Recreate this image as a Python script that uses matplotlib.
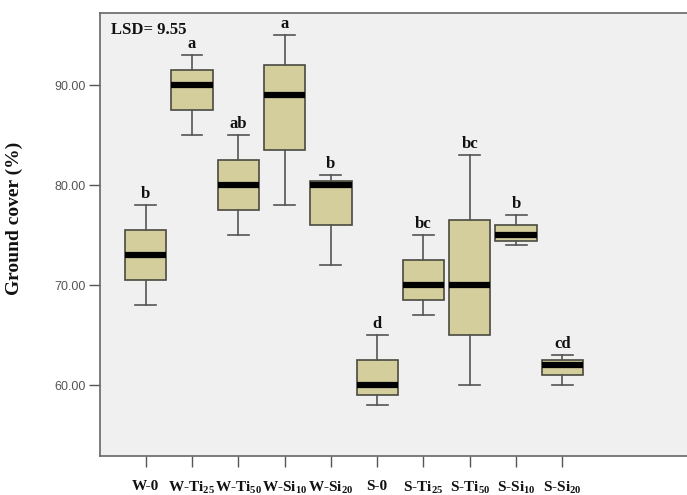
import matplotlib
matplotlib.use("Agg")
import matplotlib.pyplot as plt

categories = ["W-0", "W-Ti25", "W-Ti50", "W-Si10", "W-Si20", "S-0", "S-Ti25", "S-Ti50", "S-Si10", "S-Si20"]
tick_labels = [r"W-0", r"W-Ti$_{\mathbf{25}}$", r"W-Ti$_{\mathbf{50}}$", r"W-Si$_{\mathbf{10}}$", r"W-Si$_{\mathbf{20}}$",
               r"S-0", r"S-Ti$_{\mathbf{25}}$", r"S-Ti$_{\mathbf{50}}$", r"S-Si$_{\mathbf{10}}$", r"S-Si$_{\mathbf{20}}$"]
whisker_low = [68, 85, 75, 78, 72, 58, 67, 60, 74, 60]
q1 = [70.5, 87.5, 77.5, 83.5, 76, 59, 68.5, 65, 74.4, 61]
median = [73, 90, 80, 89, 80, 60, 70, 70, 75, 62]
q3 = [75.5, 91.5, 82.5, 92, 80.4, 62.5, 72.5, 76.5, 76, 62.5]
whisker_high = [78, 93, 85, 95, 81, 65, 75, 83, 77, 63]
letters = ["b", "a", "ab", "a", "b", "d", "bc", "bc", "b", "cd"]
lsd_text = "LSD= 9.55"
ylabel = "Ground cover (%)"
yticks = [60, 70, 80, 90]

plt.rcParams["mathtext.fontset"] = "custom"
plt.rcParams["mathtext.rm"] = "Liberation Serif"
plt.rcParams["mathtext.bf"] = "Liberation Serif:bold"

W, H = 687, 495
fig = plt.figure(figsize=(W / 100, H / 100), dpi=100)
left, right, top, bottom = 100, 700, 13, 456
ax = fig.add_axes([left / W, 1 - bottom / H, (right - left) / W, (bottom - top) / H])
ax.set_facecolor("#F0F0F0")

stats = []
for i in range(len(categories)):
    stats.append(dict(med=median[i], q1=q1[i], q3=q3[i], whislo=whisker_low[i], whishi=whisker_high[i],
                      fliers=[], label=categories[i]))
positions = list(range(1, len(categories) + 1))
ax.bxp(stats, positions=positions, widths=0.89, patch_artist=True, showfliers=False,
       boxprops=dict(facecolor="#D4CD9C", edgecolor="#4A4A40", linewidth=1.2),
       medianprops=dict(color="black", linewidth=4.5, solid_capstyle="butt"),
       whiskerprops=dict(color="#555555", linewidth=1.2),
       capprops=dict(color="#555555", linewidth=1.2),
       capwidths=0.45)

for x, wh, lt in zip(positions, whisker_high, letters):
    ax.text(x, wh + 0.25, lt, ha="center", va="bottom", fontsize=12, fontweight="bold",
            family="Liberation Serif", color="#111111")

ax.text(0.24, 96.3, lsd_text, ha="left", va="top", fontsize=12, fontweight="bold",
        family="Liberation Serif", color="#111111")

x0 = 1 - 45.7 / 46.3
ax.set_xlim(x0, x0 + (right - left) / 46.3)
ax.set_ylim(90 - (bottom - 85) / 10, 90 + (85 - top) / 10)

ax.set_xticks(positions)
ax.set_xticklabels(tick_labels, fontsize=11, fontweight="bold", family="Liberation Serif", color="#111111")
ax.set_yticks(yticks)
ax.set_yticklabels([f"{v:.2f}" for v in yticks], fontsize=9, color="#555555", family="Liberation Sans")
ax.tick_params(axis="x", length=8, width=1, color="#555555", pad=9)
ax.tick_params(axis="y", length=8, width=1, color="#555555", pad=2)

for s in ["left", "top", "bottom"]:
    ax.spines[s].set_color("#666666")
    ax.spines[s].set_linewidth(1.2)
ax.spines["right"].set_visible(False)

ax.set_ylabel(ylabel, fontsize=14, fontweight="bold", family="Liberation Serif", color="#111111")
ax.yaxis.set_label_coords(-77 / (right - left), 1 - (218 - top) / (bottom - top))

fig.savefig("out.png", dpi=100, facecolor="white")
